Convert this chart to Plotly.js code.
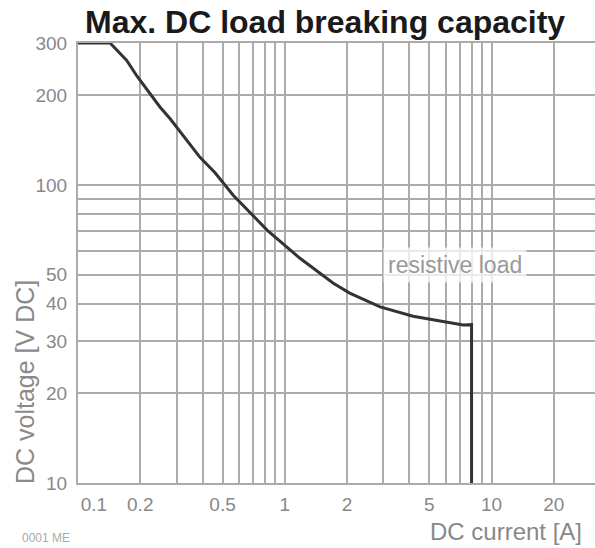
<!DOCTYPE html>
<html>
<head>
<meta charset="utf-8">
<script src="https://cdn.plot.ly/plotly-3.0.1.min.js"></script>
<style>html,body{margin:0;padding:0;background:#fff;}#chart{width:595px;height:548px;}</style>
</head>
<body>
<div id="chart"></div>
<script>
// Breaking capacity curve (resistive load)
const currentA = [0.1, 0.143, 0.172, 0.193, 0.249, 0.279, 0.389, 0.46, 0.563, 0.821, 1.18, 1.71, 2.06, 2.89, 4.17, 7.28, 8.0, 8.0];
const voltageV = [300, 300, 262, 232, 183, 167, 124, 110, 92.5, 70.6, 56.9, 46.9, 43.4, 39, 36.3, 33.9, 34.0, 10];

// Grid / tick values
const NB = '\u00a0';
const xGridVals = [0.1, 0.2, 0.3, 0.4, 0.5, 0.6, 0.7, 0.8, 0.9, 1, 2, 3, 4, 5, 6, 7, 8, 9, 10, 20];
const xTickText = [NB.repeat(6) + '0.1', '0.2', '', '', '0.5', '', '', '', '', '1', '2', '', '', '5', '', '', '', '', '10', '20'];
const yGridVals = [10, 20, 30, 40, 50, 60, 70, 80, 90, 100, 200, 300];
const yTickText = ['10', '20', '30', '40', '50', '', '', '', '', '100', '200', '300'];

const chartTitle = 'Max. DC load breaking capacity';
const xTitle = 'DC current [A]';
const yTitle = 'DC voltage [V DC]';
const curveLabel = 'resistive load';
const footNote = '0001 ME';

const gridColor = '#ababab';
const tickFont = {family: 'Liberation Sans, Arial, sans-serif', size: 19, color: '#888'};

const trace = {
  x: currentA,
  y: voltageV,
  type: 'scatter',
  mode: 'lines',
  line: {color: '#333', width: 3},
  hoverinfo: 'skip',
  showlegend: false
};

const layout = {
  width: 595,
  height: 548,
  margin: {l: 78, r: 0, t: 43, b: 65, pad: 0},
  paper_bgcolor: '#fff',
  plot_bgcolor: '#fff',
  showlegend: false,
  xaxis: {
    type: 'log',
    range: [-1, 1.5],
    tickmode: 'array',
    tickvals: xGridVals,
    ticktext: xTickText,
    showgrid: true,
    gridcolor: gridColor,
    gridwidth: 2,
    showline: true,
    mirror: true,
    linecolor: gridColor,
    linewidth: 2,
    ticks: '',
    ticklabelstandoff: 3,
    tickfont: tickFont,
    zeroline: false,
    fixedrange: true
  },
  yaxis: {
    type: 'log',
    range: [1, Math.log10(300)],
    tickmode: 'array',
    tickvals: yGridVals,
    ticktext: yTickText,
    showgrid: true,
    gridcolor: gridColor,
    gridwidth: 2,
    showline: true,
    linecolor: gridColor,
    linewidth: 2,
    ticks: '',
    ticklabelstandoff: 5,
    tickfont: tickFont,
    zeroline: false,
    fixedrange: true
  },
  annotations: [
    {
      text: '<b>' + chartTitle + '</b>',
      xref: 'paper', yref: 'paper',
      x: (325 - 78) / 517, y: (483 - 22) / 440,
      xanchor: 'center', yanchor: 'middle',
      showarrow: false,
      font: {family: 'Liberation Sans, Arial, sans-serif', size: 32, color: '#1a1a1a'}
    },
    {
      text: curveLabel,
      xref: 'x', yref: 'y',
      x: Math.log10(6.65), y: Math.log10(54),
      xanchor: 'center', yanchor: 'middle',
      showarrow: false,
      bgcolor: 'rgba(255,255,255,0.75)',
      borderpad: 4,
      font: {family: 'Liberation Sans, Arial, sans-serif', size: 23, color: '#999'}
    },
    {
      text: xTitle,
      xref: 'paper', yref: 'paper',
      x: (428 - 78) / 517, y: (483 - 531) / 440,
      xanchor: 'left', yanchor: 'middle',
      showarrow: false,
      font: {family: 'Liberation Sans, Arial, sans-serif', size: 24, color: '#888'}
    },
    {
      text: yTitle,
      xref: 'paper', yref: 'paper',
      x: (25 - 78) / 517, y: (483 - 382) / 440,
      xanchor: 'center', yanchor: 'middle',
      textangle: -90,
      showarrow: false,
      font: {family: 'Liberation Sans, Arial, sans-serif', size: 25, color: '#8a8a8a'}
    },
    {
      text: footNote,
      xref: 'paper', yref: 'paper',
      x: (20 - 78) / 517, y: (483 - 538) / 440,
      xanchor: 'left', yanchor: 'middle',
      showarrow: false,
      font: {family: 'Liberation Sans, Arial, sans-serif', size: 12, color: '#aaa'}
    }
  ]
};

Plotly.newPlot('chart', [trace], layout, {displayModeBar: false, staticPlot: true});
</script>
</body>
</html>
